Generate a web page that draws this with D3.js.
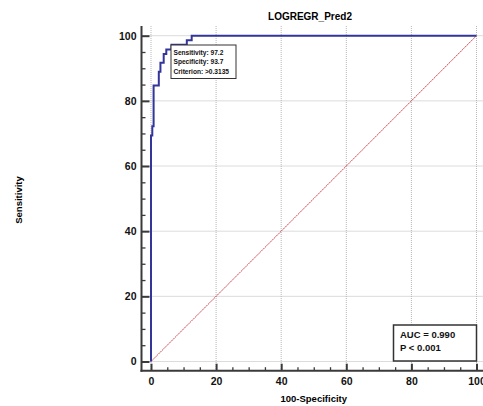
<!DOCTYPE html>
<html>
<head>
<meta charset="utf-8">
<script src="https://cdn.jsdelivr.net/npm/d3@7"></script>
<style>
  body { margin: 0; background: #fff; }
  svg { display: block; font-family: "Liberation Sans", Arial, sans-serif; }
</style>
</head>
<body>
<svg id="chart" width="483" height="406"></svg>
<script>
// ROC operating points (100-Specificity, Sensitivity)
const fpr = [0, 0, 0.4, 0.8, 2.4, 2.9, 3.9, 4.7, 6.3, 11.0, 12.5, 100];
const tpr = [0, 69.4, 72.2, 84.7, 88.9, 91.7, 94.4, 95.8, 97.2, 98.6, 100, 100];

const majorTicks = [0, 20, 40, 60, 80, 100];
const minorTicks = d3.range(0, 101, 5).filter(v => v % 20 !== 0);

const title = "LOGREGR_Pred2";
const xTitle = "100-Specificity";
const yTitle = "Sensitivity";
const criterionLines = ["Sensitivity: 97.2", "Specificity: 93.7", "Criterion: >0.3135"];
const aucLines = ["AUC = 0.990", "P < 0.001"];

const svg = d3.select("#chart");

const x = d3.scaleLinear().domain([0, 100]).range([151, 476.5]);
const y = d3.scaleLinear().domain([0, 100]).range([361.5, 35.7]);

// plot frame (axis positions)
const axisX = 141.5;
const axisY = 370.7;
const topY = 26;
const rightX = 483;

// =========================
// Grid
// =========================
const grid = svg.append("g").attr("class", "grid");
grid.selectAll(".vgrid")
  .data(majorTicks)
  .enter()
  .append("line")
  .attr("x1", d => x(d)).attr("x2", d => x(d))
  .attr("y1", topY).attr("y2", axisY)
  .attr("stroke", "#b8b8b8")
  .attr("stroke-width", 1)
  .attr("stroke-dasharray", "1,1");

grid.selectAll(".hgrid")
  .data(majorTicks)
  .enter()
  .append("line")
  .attr("x1", axisX).attr("x2", rightX)
  .attr("y1", d => y(d)).attr("y2", d => y(d))
  .attr("stroke", "#b8b8b8")
  .attr("stroke-width", 1)
  .attr("stroke-dasharray", "1,1");

// =========================
// Diagonal reference
// =========================
svg.append("line")
  .attr("x1", x(0)).attr("y1", y(0))
  .attr("x2", x(100)).attr("y2", y(100))
  .attr("stroke", "#c0202a")
  .attr("stroke-width", 0.8)
  .attr("stroke-dasharray", "2,0.6");

// =========================
// ROC curve
// =========================
const line = d3.line()
  .x(d => x(d[0]))
  .y(d => y(d[1]))
  .curve(d3.curveStepAfter);

svg.append("path")
  .datum(fpr.map((f, i) => [f, tpr[i]]))
  .attr("d", line)
  .attr("fill", "none")
  .attr("stroke", "#33359a")
  .attr("stroke-width", 2);

// =========================
// Axes
// =========================
function styleTicks(g, len) {
  g.select(".domain").remove();
  g.selectAll(".tick line").attr("stroke", "#3a3a3a").attr("stroke-width", len > 5 ? 2 : 1.3);
}

// y ticks (inward)
svg.append("g")
  .attr("transform", `translate(${axisX},0)`)
  .call(d3.axisRight(y).tickValues(majorTicks).tickSize(8).tickFormat(""))
  .call(g => styleTicks(g, 8));
svg.append("g")
  .attr("transform", `translate(${axisX},0)`)
  .call(d3.axisRight(y).tickValues(minorTicks).tickSize(4).tickFormat(""))
  .call(g => styleTicks(g, 4));
svg.append("g")
  .attr("transform", `translate(${axisX},0)`)
  .call(d3.axisLeft(y).tickValues(majorTicks).tickSize(0).tickPadding(5))
  .call(g => g.select(".domain").remove())
  .call(g => g.selectAll("text")
    .style("font-size", "10.5px").style("font-weight", "bold").attr("fill", "#111"));

// x ticks (inward)
svg.append("g")
  .attr("transform", `translate(0,${axisY})`)
  .call(d3.axisTop(x).tickValues(majorTicks).tickSize(7).tickFormat(""))
  .call(g => styleTicks(g, 7));
svg.append("g")
  .attr("transform", `translate(0,${axisY})`)
  .call(d3.axisTop(x).tickValues(minorTicks).tickSize(3.5).tickFormat(""))
  .call(g => styleTicks(g, 3.5));
svg.append("g")
  .attr("transform", `translate(0,${axisY})`)
  .call(d3.axisBottom(x).tickValues(majorTicks).tickSize(0).tickPadding(7))
  .call(g => g.select(".domain").remove())
  .call(g => g.selectAll("text")
    .style("font-size", "10.5px").style("font-weight", "bold").attr("fill", "#111"));

// axis lines
svg.append("line")
  .attr("x1", axisX).attr("x2", axisX)
  .attr("y1", topY).attr("y2", axisY + 1)
  .attr("stroke", "#3a3a3a").attr("stroke-width", 2);
svg.append("line")
  .attr("x1", axisX - 1).attr("x2", rightX)
  .attr("y1", axisY).attr("y2", axisY)
  .attr("stroke", "#3a3a3a").attr("stroke-width", 2);

// =========================
// Titles
// =========================
svg.append("text")
  .attr("x", 310).attr("y", 20)
  .attr("text-anchor", "middle")
  .style("font-size", "10px").style("font-weight", "bold")
  .text(title);

svg.append("text")
  .attr("x", (x(0) + x(100)) / 2).attr("y", 401.5)
  .attr("text-anchor", "middle")
  .style("font-size", "9.5px").style("font-weight", "bold")
  .text(xTitle);

svg.append("text")
  .attr("transform", "translate(22,200) rotate(-90)")
  .attr("text-anchor", "middle")
  .style("font-size", "9.5px").style("font-weight", "bold")
  .text(yTitle);

// =========================
// Criterion box
// =========================
const crit = svg.append("g").attr("transform", "translate(171,45)");
crit.append("rect")
  .attr("width", 65).attr("height", 33.5)
  .attr("fill", "#fff").attr("stroke", "#333").attr("stroke-width", 1);
crit.selectAll("text")
  .data(criterionLines)
  .enter()
  .append("text")
  .attr("x", 2.5)
  .attr("y", (d, i) => 9.5 + i * 9.5)
  .style("font-size", "6.6px").style("font-weight", "bold")
  .attr("fill", "#111")
  .text(d => d);

// =========================
// AUC box
// =========================
const auc = svg.append("g").attr("transform", "translate(393.5,325)");
auc.append("rect")
  .attr("width", 83).attr("height", 36)
  .attr("fill", "#fff").attr("stroke", "#333").attr("stroke-width", 1.5);
auc.selectAll("text")
  .data(aucLines)
  .enter()
  .append("text")
  .attr("x", 6.5)
  .attr("y", (d, i) => 12.5 + i * 13.5)
  .style("font-size", "9.5px").style("font-weight", "bold")
  .attr("fill", "#111")
  .text(d => d);
</script>
</body>
</html>
